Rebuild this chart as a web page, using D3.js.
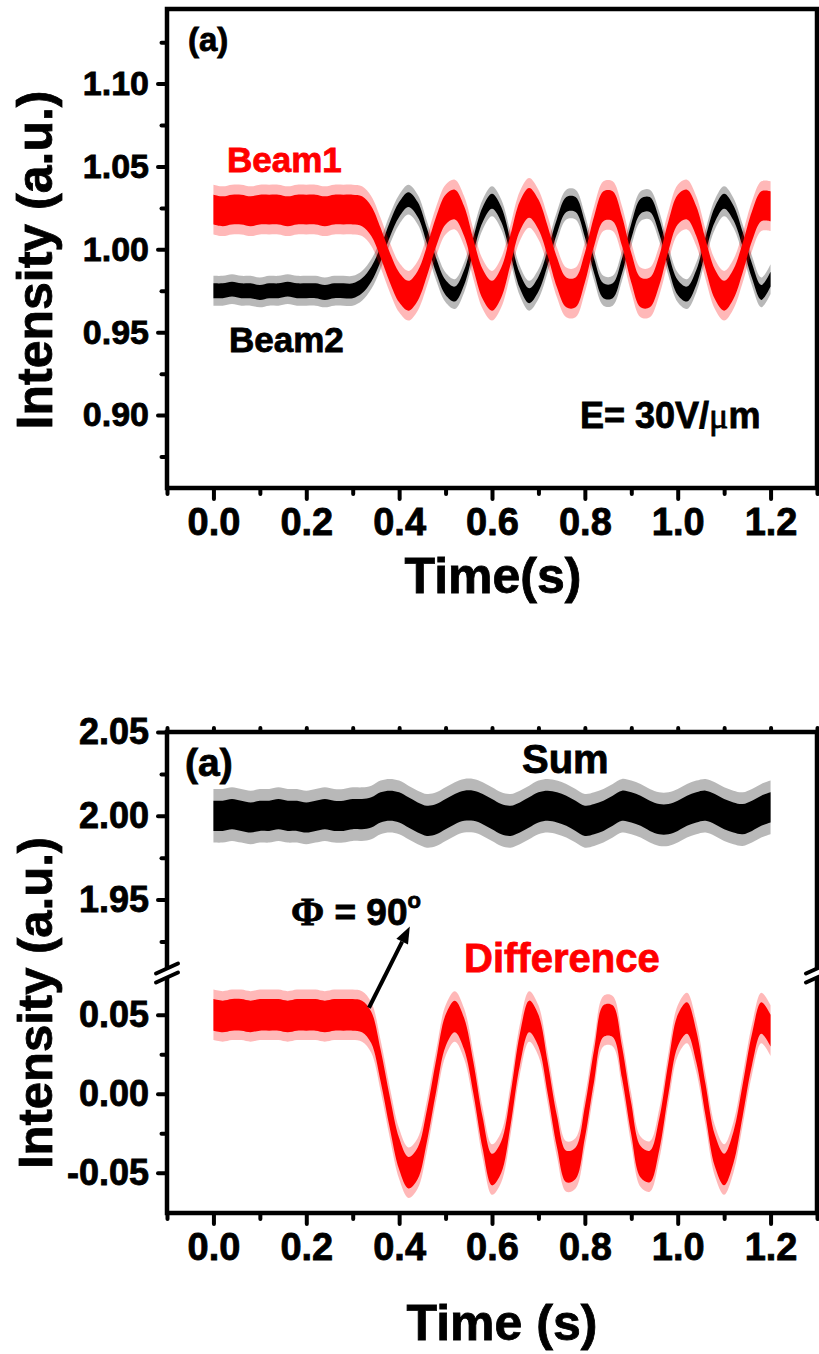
<!DOCTYPE html>
<html>
<head>
<meta charset="utf-8">
<script src="https://cdn.jsdelivr.net/npm/d3@7"></script>
<style>
  html, body { margin: 0; padding: 0; background: #fff; }
  svg { display: block; }
</style>
</head>
<body>
<svg id="fig" width="819" height="1354"></svg>
<script>
// ---- data -------------------------------------------------------------
// sample times (s)
const time = [0.00,0.02,0.04,0.06,0.08,0.10,0.12,0.14,0.16,0.18,0.20,0.22,0.24,0.26,0.28,0.30,
  0.32,0.34,0.36,0.38,0.40,0.42,0.44,0.46,0.48,0.50,0.52,0.54,0.56,0.58,0.60,0.62,0.64,0.66,0.68,0.70,
  0.72,0.74,0.76,0.78,0.80,0.82,0.84,0.86,0.88,0.90,0.92,0.94,0.96,0.98,1.00,1.02,1.04,1.06,1.08,1.10,
  1.12,1.14,1.16,1.18,1.20];

// panel 1: normalised beam intensities (mean level of the noisy trace)
const beam1 = [1.024,1.023,1.024,1.024,1.023,1.024,1.024,1.024,1.023,1.024,1.024,1.024,1.023,1.024,1.024,1.024,
  1.023,1.017,1.004,0.989,0.977,0.972,0.978,0.993,1.011,1.024,1.027,1.017,0.997,0.979,0.972,0.980,1.000,1.020,1.028,1.021,
  1.005,0.986,0.974,0.974,0.989,1.011,1.026,1.026,1.011,0.989,0.974,0.974,0.987,1.008,1.024,1.027,1.017,0.997,0.979,0.972,
  0.979,0.995,1.014,1.026,1.026];
const beam2 = [0.975,0.975,0.976,0.975,0.975,0.974,0.975,0.975,0.976,0.975,0.975,0.975,0.974,0.975,0.975,0.975,
  0.978,0.985,0.997,1.012,1.024,1.030,1.024,1.008,0.990,0.977,0.973,0.983,1.003,1.021,1.029,1.021,1.001,0.981,0.972,0.979,
  0.995,1.014,1.027,1.027,1.012,0.990,0.975,0.975,0.990,1.011,1.026,1.027,1.014,0.993,0.977,0.973,0.983,1.003,1.021,1.029,
  1.022,1.006,0.987,0.974,0.982];

// panel 2: sum and difference signals
const sumSignal = [2.000,2.000,2.001,2.000,1.999,2.000,2.000,2.001,2.000,2.000,1.999,2.000,2.001,2.000,2.000,2.001,
  2.001,2.002,2.005,2.006,2.005,2.002,1.999,1.997,1.998,2.001,2.004,2.006,2.006,2.004,2.001,1.998,1.997,1.999,2.002,2.005,
  2.006,2.005,2.003,2.000,1.997,1.998,2.000,2.003,2.006,2.005,2.003,2.000,1.998,1.998,2.000,2.003,2.005,2.006,2.004,2.001,
  1.999,1.998,2.000,2.003,2.005];
const diffSignal = [0.050,0.049,0.050,0.050,0.049,0.050,0.050,0.050,0.049,0.050,0.050,0.050,0.049,0.050,0.050,0.050,
  0.049,0.042,0.018,-0.012,-0.038,-0.050,-0.044,-0.020,0.012,0.040,0.049,0.038,0.010,-0.025,-0.048,-0.040,-0.010,0.028,0.049,0.040,
  0.010,-0.024,-0.046,-0.044,-0.018,0.018,0.046,0.046,0.020,-0.016,-0.043,-0.046,-0.026,0.010,0.040,0.048,0.030,-0.004,-0.036,-0.048,
  -0.034,-0.004,0.028,0.048,0.040];

// noise half-widths of each trace: [dense core, spikes]
const beam1Noise = [0.009, 0.015];
const beam2Noise = [0.0045, 0.009];
const sumNoise = [0.009, 0.016];
const diffNoise = [0.010, 0.016];

// tick values
const xMajor = [0.0,0.2,0.4,0.6,0.8,1.0,1.2];
const xMinor = [-0.1,0.1,0.3,0.5,0.7,0.9,1.1,1.3];
const xAll = [-0.1,0.0,0.1,0.2,0.3,0.4,0.5,0.6,0.7,0.8,0.9,1.0,1.1,1.2,1.3];
const topYMajor = [0.90,0.95,1.00,1.05,1.10];
const topYMinor = [0.875,0.925,0.975,1.025,1.075,1.125];
const upYMajor = [1.95,2.00,2.05];
const upYMinor = [1.925,1.975,2.025];
const loYMajor = [-0.05,0.00,0.05];
const loYMinor = [-0.025,0.025];

// ---- drawing ----------------------------------------------------------
const SANS = '"Liberation Sans", Arial, Helvetica, sans-serif';
const SERIF = '"Liberation Serif", "Times New Roman", serif';
const svg = d3.select("#fig");

const L = 167, R = 817;
const x = d3.scaleLinear().domain([-0.1, 1.3]).range([L, R]);
const yTop = d3.scaleLinear().domain([0.856, 1.145]).range([488, 9]);
const yUp = d3.scaleLinear().domain([1.905, 2.05]).range([975, 732]);
const yLo = d3.scaleLinear().domain([-0.0755, 0.0765]).range([1213, 973]);

function bandPath(y, values, hw) {
  return d3.area()
    .x((d, i) => x(time[i]))
    .y0(d => y(d - hw))
    .y1(d => y(d + hw))
    .curve(d3.curveCatmullRom)(values);
}
function trace(y, values, noise, color) {
  const g = svg.append("g");
  g.append("path").attr("d", bandPath(y, values, noise[1])).attr("fill", color).attr("opacity", 0.28);
  g.append("path").attr("d", bandPath(y, values, noise[0])).attr("fill", color);
}

// heavy text, as in the printed figure
function heavy(sel, color) {
  return sel.attr("stroke", color || "#000").attr("stroke-width", 0.8).attr("paint-order", "stroke");
}

function styleAxis(g, size) {
  g.select(".domain").remove();
  g.selectAll(".tick line").attr("stroke", "#000").attr("stroke-width", 4).attr("stroke-linecap", "round");
  g.selectAll(".tick text").attr("fill", "#000")
    .style("font-family", SANS).style("font-weight", "bold").style("font-size", size + "px")
    .call(s => heavy(s));
}
const fmt2 = v => v.toFixed(2);
const fmt1 = v => v.toFixed(1);

function leftAxis(scale, major, minor, size) {
  svg.append("g").attr("transform", `translate(${L},0)`)
    .call(d3.axisLeft(scale).tickValues(minor).tickSize(5.5).tickFormat(""))
    .call(g => styleAxis(g, size));
  svg.append("g").attr("transform", `translate(${L},0)`)
    .call(d3.axisLeft(scale).tickValues(major).tickSize(9).tickPadding(9).tickFormat(fmt2))
    .call(g => styleAxis(g, size));
}
function bottomAxis(y0) {
  svg.append("g").attr("transform", `translate(0,${y0})`)
    .call(d3.axisBottom(x).tickValues(xMinor).tickSize(6).tickFormat(""))
    .call(g => styleAxis(g, 38));
  svg.append("g").attr("transform", `translate(0,${y0})`)
    .call(d3.axisBottom(x).tickValues(xMajor).tickSize(11).tickPadding(9).tickFormat(fmt1))
    .call(g => styleAxis(g, 38));
}
function label(txt, px, py, size, color, anchor) {
  return svg.append("text").attr("x", px).attr("y", py)
    .attr("text-anchor", anchor || "start")
    .style("font-family", SANS).style("font-weight", "bold").style("font-size", size + "px")
    .attr("fill", color || "#000").call(s => heavy(s, color)).text(txt);
}
const frameStyle = sel => sel.attr("fill", "none").attr("stroke", "#000").attr("stroke-width", 4.5);

// ===== panel 1: Beam1 / Beam2 =====
trace(yTop, beam2, beam2Noise, "#000");
trace(yTop, beam1, beam1Noise, "#ff0000");

svg.append("rect").attr("x", L).attr("y", 9).attr("width", R - L).attr("height", 488 - 9).call(frameStyle);
leftAxis(yTop, topYMajor, topYMinor, 34);
bottomAxis(488);

label("(a)", 188, 51, 33);
label("Beam1", 227, 172, 35, "#ff0000");
label("Beam2", 229, 352, 35);
const eLab = label("E= 30V/", 580, 428, 36);
eLab.append("tspan").style("font-family", SERIF).style("font-weight", "normal").text("\u03BC");
eLab.append("tspan").text("m");
label("Time(s)", 493, 593, 50, "#000", "middle");
svg.append("text").attr("transform", "translate(52,260) rotate(-90)").attr("text-anchor", "middle")
  .style("font-family", SANS).style("font-weight", "bold").style("font-size", "50px")
  .call(s => heavy(s)).text("Intensity (a.u.)");

// ===== panel 2: Sum / Difference with broken y axis =====
trace(yUp, sumSignal, sumNoise, "#000");
trace(yLo, diffSignal, diffNoise, "#ff0000");

const brkY = 973, gap = 4.5;
const frame = d3.path();
frame.moveTo(L, brkY - gap); frame.lineTo(L, 732); frame.lineTo(R, 732); frame.lineTo(R, brkY - gap);
frame.moveTo(R, brkY + gap); frame.lineTo(R, 1213); frame.lineTo(L, 1213); frame.lineTo(L, brkY + gap);
svg.append("path").attr("d", frame.toString()).call(frameStyle).attr("stroke-linejoin", "miter");

// axis break marks
[L, R].forEach(ax => {
  [-gap, gap].forEach(off => {
    svg.append("line")
      .attr("x1", ax - 11).attr("y1", brkY + off + 5)
      .attr("x2", ax + 11).attr("y2", brkY + off - 5)
      .attr("stroke", "#000").attr("stroke-width", 4).attr("stroke-linecap", "round");
  });
});

// small ticks on the top edge
svg.append("g").attr("transform", "translate(0,732)")
  .call(d3.axisTop(x).tickValues(xAll).tickSize(4).tickFormat(""))
  .call(g => styleAxis(g, 38));

leftAxis(yUp, upYMajor, upYMinor, 36);
leftAxis(yLo, loYMajor, loYMinor, 36);
bottomAxis(1213);

label("(a)", 185, 776, 39);
label("Sum", 522, 773, 40);
label("Difference", 464, 972, 40, "#ff0000");
const phi = svg.append("text").attr("x", 291).attr("y", 925)
  .style("font-family", SANS).style("font-weight", "bold").style("font-size", "37px")
  .call(s => heavy(s));
phi.append("tspan").style("font-family", SERIF).style("font-size", "40px").text("\u03A6");
phi.append("tspan").text(" = 90");
phi.append("tspan").attr("dy", -17).style("font-size", "22px").text("o");

// arrow from the end of the flat difference level up to the phase label
const a0 = [x(0.335), yLo(0.0545)];
const a1 = [x(0.423), yUp(1.934)];
const len = Math.hypot(a1[0] - a0[0], a1[1] - a0[1]);
const u = [(a1[0] - a0[0]) / len, (a1[1] - a0[1]) / len];
const n = [-u[1], u[0]];
const head = 17, hw = 6.5;
const base = [a1[0] - head * u[0], a1[1] - head * u[1]];
svg.append("line").attr("x1", a0[0]).attr("y1", a0[1]).attr("x2", base[0]).attr("y2", base[1])
  .attr("stroke", "#000").attr("stroke-width", 4);
svg.append("path")
  .attr("d", `M${a1[0]},${a1[1]}L${base[0] + hw * n[0]},${base[1] + hw * n[1]}L${base[0] - hw * n[0]},${base[1] - hw * n[1]}Z`)
  .attr("fill", "#000");

label("Time (s)", 502, 1340, 50, "#000", "middle");
svg.append("text").attr("transform", "translate(52,1003) rotate(-90)").attr("text-anchor", "middle")
  .style("font-family", SANS).style("font-weight", "bold").style("font-size", "49px")
  .call(s => heavy(s)).text("Intensity (a.u.)");
</script>
</body>
</html>
